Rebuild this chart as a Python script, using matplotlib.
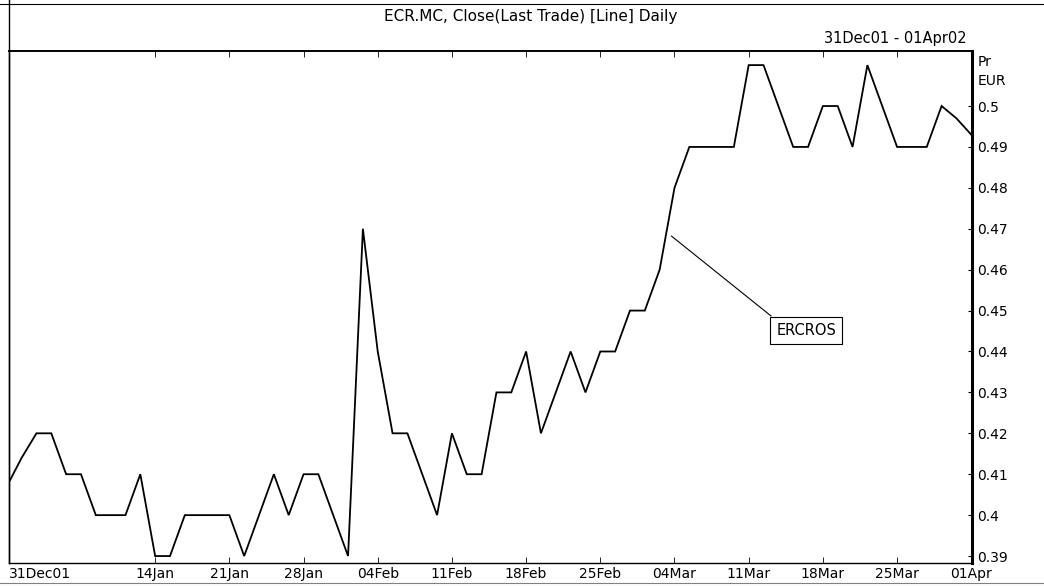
import matplotlib
matplotlib.use("Agg")
import matplotlib.pyplot as plt
from matplotlib.lines import Line2D

# ---- data (trading-day index -> close, EUR) ----
day_index = list(range(66))
close = [0.407, 0.414, 0.42, 0.42, 0.41, 0.41, 0.40, 0.40, 0.40, 0.41,
         0.39, 0.39, 0.40, 0.40, 0.40, 0.40, 0.39, 0.40, 0.41, 0.40,
         0.41, 0.41, 0.40, 0.39, 0.47, 0.44, 0.42, 0.42, 0.41, 0.40,
         0.42, 0.41, 0.41, 0.43, 0.43, 0.44, 0.42, 0.43, 0.44, 0.43,
         0.44, 0.44, 0.45, 0.45, 0.46, 0.48, 0.49, 0.49, 0.49, 0.49,
         0.51, 0.51, 0.50, 0.49, 0.49, 0.50, 0.50, 0.49, 0.51, 0.50,
         0.49, 0.49, 0.49, 0.50, 0.497, 0.493]
tick_index = [0, 10, 15, 20, 25, 30, 35, 40, 45, 50, 55, 60, 65]
tick_labels = ["31Dec01", "14Jan", "21Jan", "28Jan", "04Feb", "11Feb", "18Feb",
               "25Feb", "04Mar", "11Mar", "18Mar", "25Mar", "01Apr"]
y_ticks = [0.39, 0.40, 0.41, 0.42, 0.43, 0.44, 0.45, 0.46, 0.47, 0.48, 0.49, 0.50]
series_name = "ERCROS"
title = "ECR.MC, Close(Last Trade) [Line] Daily"
date_range = "31Dec01 - 01Apr02"

plt.rcParams['font.family'] = ['DejaVu Sans']

W, H = 1044, 586
fig = plt.figure(figsize=(W / 100, H / 100), dpi=100)
fig.patch.set_facecolor("white")

left, right, top, bottom = 9, 972, 51, 563
ax = fig.add_axes([left / W, 1 - bottom / H, (right - left) / W, (bottom - top) / H])

ax.plot(day_index, close, color="black", lw=1.3, solid_joinstyle="miter")
x0, x1 = 0.15, 65.05
ax.set_xlim(x0, x1)
ax.set_ylim(0.3883, 0.51345)

for s in ["left", "bottom"]:
    ax.spines[s].set_linewidth(1.0)
ax.spines["top"].set_linewidth(1.4)
ax.spines["right"].set_linewidth(2.2)

ax.yaxis.tick_right()
ax.set_yticks(y_ticks)
ax.set_yticklabels(["%g" % v for v in y_ticks], fontsize=10)
ax.tick_params(axis="y", direction="in", length=3, width=0.8, pad=4)
for lab in ax.get_yticklabels():
    lab.set_horizontalalignment("left")

xt = [x0] + tick_index[1:]
ax.set_xticks(xt)
ax.set_xticklabels(tick_labels, fontsize=10)
ax.tick_params(axis="x", direction="in", length=4, width=0.6, pad=3,
               top=True, bottom=True)
ax.get_xticklabels()[0].set_horizontalalignment("left")
ax.xaxis.get_major_ticks()[0].tick1line.set_visible(False)
ax.xaxis.get_major_ticks()[0].tick2line.set_visible(False)

# annotation
ax.plot([44.8, 51.5], [0.4682, 0.4487], color="black", lw=0.8)
ax.text(51.85, 0.4452, series_name, fontsize=10.5, ha="left", va="center",
        bbox=dict(boxstyle="square,pad=0.4", fc="white", ec="black", lw=0.8))

# texts
fig.text(531 / W, 1 - 17 / H, title, ha="center", va="center", fontsize=11)
fig.text(967 / W, 1 - 38 / H, date_range, ha="right", va="center", fontsize=10.5)
fig.text(978 / W, 1 - 62 / H, "Pr", ha="left", va="center", fontsize=10)
fig.text(978 / W, 1 - 81 / H, "EUR", ha="left", va="center", fontsize=10)

# window frame lines
fig.add_artist(Line2D([0, 1], [1 - 4 / H, 1 - 4 / H], color="black", lw=0.8))
fig.add_artist(Line2D([left / W, left / W], [1 - bottom / H, 1], color="black", lw=1.0))
fig.add_artist(Line2D([0, 1], [1 - 583 / H, 1 - 583 / H], color="0.5", lw=0.8))

fig.savefig("out.png", dpi=100)
